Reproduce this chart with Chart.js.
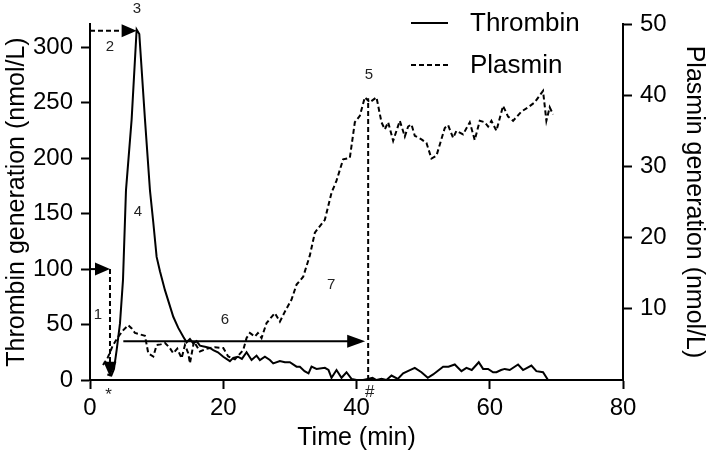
<!DOCTYPE html>
<html>
<head>
<meta charset="utf-8">
<script src="https://cdn.jsdelivr.net/npm/chart.js@4.4.1/dist/chart.umd.min.js"></script>
<style>
  html, body { margin: 0; padding: 0; background: #fff; }
  #wrap { width: 709px; height: 455px; }
</style>
</head>
<body>
<div id="wrap"><canvas id="chart" width="709" height="455"></canvas></div>
<script>
// Thrombin (left axis, nmol/L) and plasmin (right axis, nmol/L) vs time (min)
const thrombinTime = [2.6,3.2,3.6,4,4.5,4.95,5.4,6.25,7,7.4,8.25,9,9.5,10,10.5,11.25,12.5,13.25,14,14.5,15,15.5,16,16.5,17.25,18,18.5,19.2,20,21,21.5,22.2,22.8,23.5,24.25,25,25.5,26.25,27,27.5,28.5,29.25,30,31,31.5,32.2,32.8,33.25,34,35.25,35.8,36.25,37,37.75,38.5,39.25,40,41,41.7,42.4,43,43.75,44.5,45.25,46.2,47,47.7,48.75,49.75,50.7,51.5,53,53.8,54.75,55.75,56.5,57.3,58.35,59,59.75,60.5,61,61.7,62.25,63,64.25,65,66.25,67,68,68.75];
const thrombin     = [5,4,10,27,51,90,171,235,316,312,235,171,142,111,98,81,57,47,39,34,37,33,35,31,30,29,27,25,21,17,20,21,19,25,18,22,18,21,18,15,17,16,16,12,12,8,6,12,10,11,9,2,9,2,7,1,0,0,1,2,0,1,0,4,1,6,8,11,7,2,5,12,12,14,8,11,9,16,10,10,7,7,9,10,9,14,9,13,8,7,0];

const plasminTime = [1.95,2.6,3.4,4.25,5,5.75,6.3,6.75,7.5,8.25,8.75,9.5,10,10.6,11.25,11.9,12.5,13.1,13.75,14.25,14.75,15,15.6,16.5,17.5,18.75,20,20.75,21.75,23,23.5,24,24.75,25.2,25.75,26.5,27.2,27.75,28.5,29.25,30.25,31,32,33,33.75,35.25,35.75,36.25,37,38,39,39.75,40.5,41.25,42,43,43.75,44.25,44.75,45.5,46.5,47.25,47.75,48.25,48.75,49.75,50.5,51.25,52,53.25,53.75,54.5,55,56,57,57.75,58.5,59.25,59.75,60.25,61,62,62.75,63.5,64.75,65.75,66.75,68,68.5,69,69.5];
const plasmin     = [2.1,3.0,4.8,6.1,7.0,7.7,7.2,6.6,6.4,6.2,3.75,3.3,4.9,5.0,5.2,4.6,3.75,4.4,3.05,4.9,3.75,2.35,5.4,4.0,4.4,4.6,4.5,3.3,2.9,4.2,5.9,6.6,6.1,6.6,5.9,8.0,8.8,9.4,8.2,9.6,11.3,13.4,14.5,17.5,20.7,22.5,24.4,26.3,28,31,31.2,36.2,37.1,39.7,39,39.7,36.2,35.2,36.2,33.6,36.4,34.2,35.6,35.9,34.3,33.8,33.3,31.1,31.5,35.4,35.8,34,35,34.5,36.2,33.7,36.4,36.2,35.6,36.4,35,38.5,37,36.4,37.7,38.3,39,40.6,36.4,38.3,37.3];

const xTicks = [0, 20, 40, 60, 80];

// annotation arrows, in time / thrombin-axis units
const arrows = [
  { from: [0, 100],   to: [3.0, 100],  dash: true,  head: true },
  { from: [3.0, 100], to: [3.0, 3],    dash: true,  head: true },
  { from: [0, 315],   to: [7.0, 315],  dash: true,  head: true },
  { from: [5, 35],    to: [41.3, 35],  dash: false, head: true },
  { from: [41.75, 0], to: [41.75, 254], dash: true, head: false }
];
const notes = [
  { text: '1', t: 1.2,  v: 59 },
  { text: '2', t: 3.0,  v: 300 },
  { text: '3', t: 7.05, v: 335 },
  { text: '4', t: 7.2,  v: 152 },
  { text: '5', t: 41.85, v: 275 },
  { text: '6', t: 20.25, v: 54 },
  { text: '7', t: 36.2, v: 86 },
  { text: '*', t: 2.8,  v: -14 },
  { text: '#', t: 42.0, v: -11 }
];

const FONT = '"Liberation Sans", Arial, Helvetica, sans-serif';
const DASH = [5, 3];

const pts = (xs, ys) => xs.map((x, i) => ({ x, y: ys[i] }));

function head(ctx, x0, y0, x1, y1, len, half){
  const a = Math.atan2(y1 - y0, x1 - x0);
  ctx.save();
  ctx.translate(x1, y1);
  ctx.rotate(a);
  ctx.beginPath();
  ctx.moveTo(0, 0);
  ctx.lineTo(-len, -half);
  ctx.lineTo(-len, half);
  ctx.closePath();
  ctx.fill();
  ctx.restore();
}

const annotate = {
  id: 'annotate',
  afterDatasetsDraw(chart){
    const { ctx, scales: { x, y } } = chart;
    ctx.save();
    ctx.strokeStyle = '#000';
    ctx.fillStyle = '#000';
    ctx.lineWidth = 2;
    arrows.forEach(a => {
      const x0 = x.getPixelForValue(a.from[0]), y0 = y.getPixelForValue(a.from[1]);
      const x1 = x.getPixelForValue(a.to[0]),   y1 = y.getPixelForValue(a.to[1]);
      const len = a.dash ? 15 : 18;
      const d = Math.hypot(x1 - x0, y1 - y0);
      const ex = a.head ? x1 - (x1 - x0) / d * (len - 2) : x1;
      const ey = a.head ? y1 - (y1 - y0) / d * (len - 2) : y1;
      ctx.setLineDash(a.dash ? DASH : []);
      ctx.beginPath();
      ctx.moveTo(x0, y0);
      ctx.lineTo(ex, ey);
      ctx.stroke();
      ctx.setLineDash([]);
      if (a.head) head(ctx, x0, y0, x1, y1, len, 6.5);
    });
    ctx.textAlign = 'center';
    ctx.textBaseline = 'middle';
    ctx.fillStyle = '#222';
    notes.forEach(n => {
      ctx.font = (n.text === '*' || n.text === '#' ? '17px ' : '15px ') + FONT;
      ctx.fillText(n.text, x.getPixelForValue(n.t), y.getPixelForValue(n.v));
    });

    // legend
    ctx.fillStyle = '#000';
    ctx.font = '26px ' + FONT;
    ctx.textAlign = 'left';
    chart.data.datasets.forEach((ds, i) => {
      const ly = 23 + i * 42;
      ctx.setLineDash(ds.borderDash || []);
      ctx.beginPath();
      ctx.moveTo(411, ly);
      ctx.lineTo(448, ly);
      ctx.stroke();
      ctx.setLineDash([]);
      ctx.fillText(ds.label, 470, ly + 1);
    });
    ctx.restore();
  }
};

const axisCommon = {
  border: { color: '#000', width: 2 },
  grid: { drawOnChartArea: false, drawTicks: true, tickLength: 9, tickWidth: 2, tickColor: '#000' },
  ticks: { color: '#000', font: { family: FONT, size: 24 }, padding: 8 }
};

new Chart(document.getElementById('chart'), {
  type: 'line',
  data: {
    datasets: [
      { label: 'Thrombin', data: pts(thrombinTime, thrombin), yAxisID: 'y',
        borderColor: '#000', borderWidth: 2, pointRadius: 0, tension: 0, fill: false },
      { label: 'Plasmin', data: pts(plasminTime, plasmin), yAxisID: 'y1',
        borderColor: '#000', borderWidth: 2, borderDash: DASH, pointRadius: 0, tension: 0, fill: false }
    ]
  },
  options: {
    responsive: false,
    animation: false,
    devicePixelRatio: 1,
    layout: { padding: { top: 24, left: 0, right: 0, bottom: 0 } },
    plugins: { legend: { display: false }, tooltip: { enabled: false } },
    scales: {
      x: {
        ...axisCommon,
        type: 'linear', min: 0, max: 80,
        ticks: { ...axisCommon.ticks, padding: 5 },
        afterBuildTicks: s => { s.ticks = xTicks.map(v => ({ value: v })); },
        title: { display: true, text: 'Time (min)', color: '#000', font: { family: FONT, size: 25 }, padding: { top: 0, bottom: 2 } },
        afterFit: s => { s.height = 75; }
      },
      y: {
        ...axisCommon,
        position: 'left', min: 0, max: 321,
        ticks: { ...axisCommon.ticks, stepSize: 50, includeBounds: false },
        title: { display: true, text: 'Thrombin generation (nmol/L)', color: '#000', font: { family: FONT, size: 25 }, padding: { top: 2, bottom: 0 } },
        afterFit: s => { s.width = 90; }
      },
      y1: {
        ...axisCommon,
        position: 'right', min: 0, max: 50,
        grid: { ...axisCommon.grid, tickColor: c => (c.tick && c.tick.value === 0 ? 'rgba(0,0,0,0)' : '#000') },
        ticks: { ...axisCommon.ticks, stepSize: 10, callback: v => (v === 0 ? '' : v) },
        title: { display: true, text: 'Plasmin generation (nmol/L)', color: '#000', font: { family: FONT, size: 25 }, padding: { top: 0, bottom: 0 } },
        afterFit: s => { s.width = 86; }
      }
    }
  },
  plugins: [annotate]
});
</script>
</body>
</html>
